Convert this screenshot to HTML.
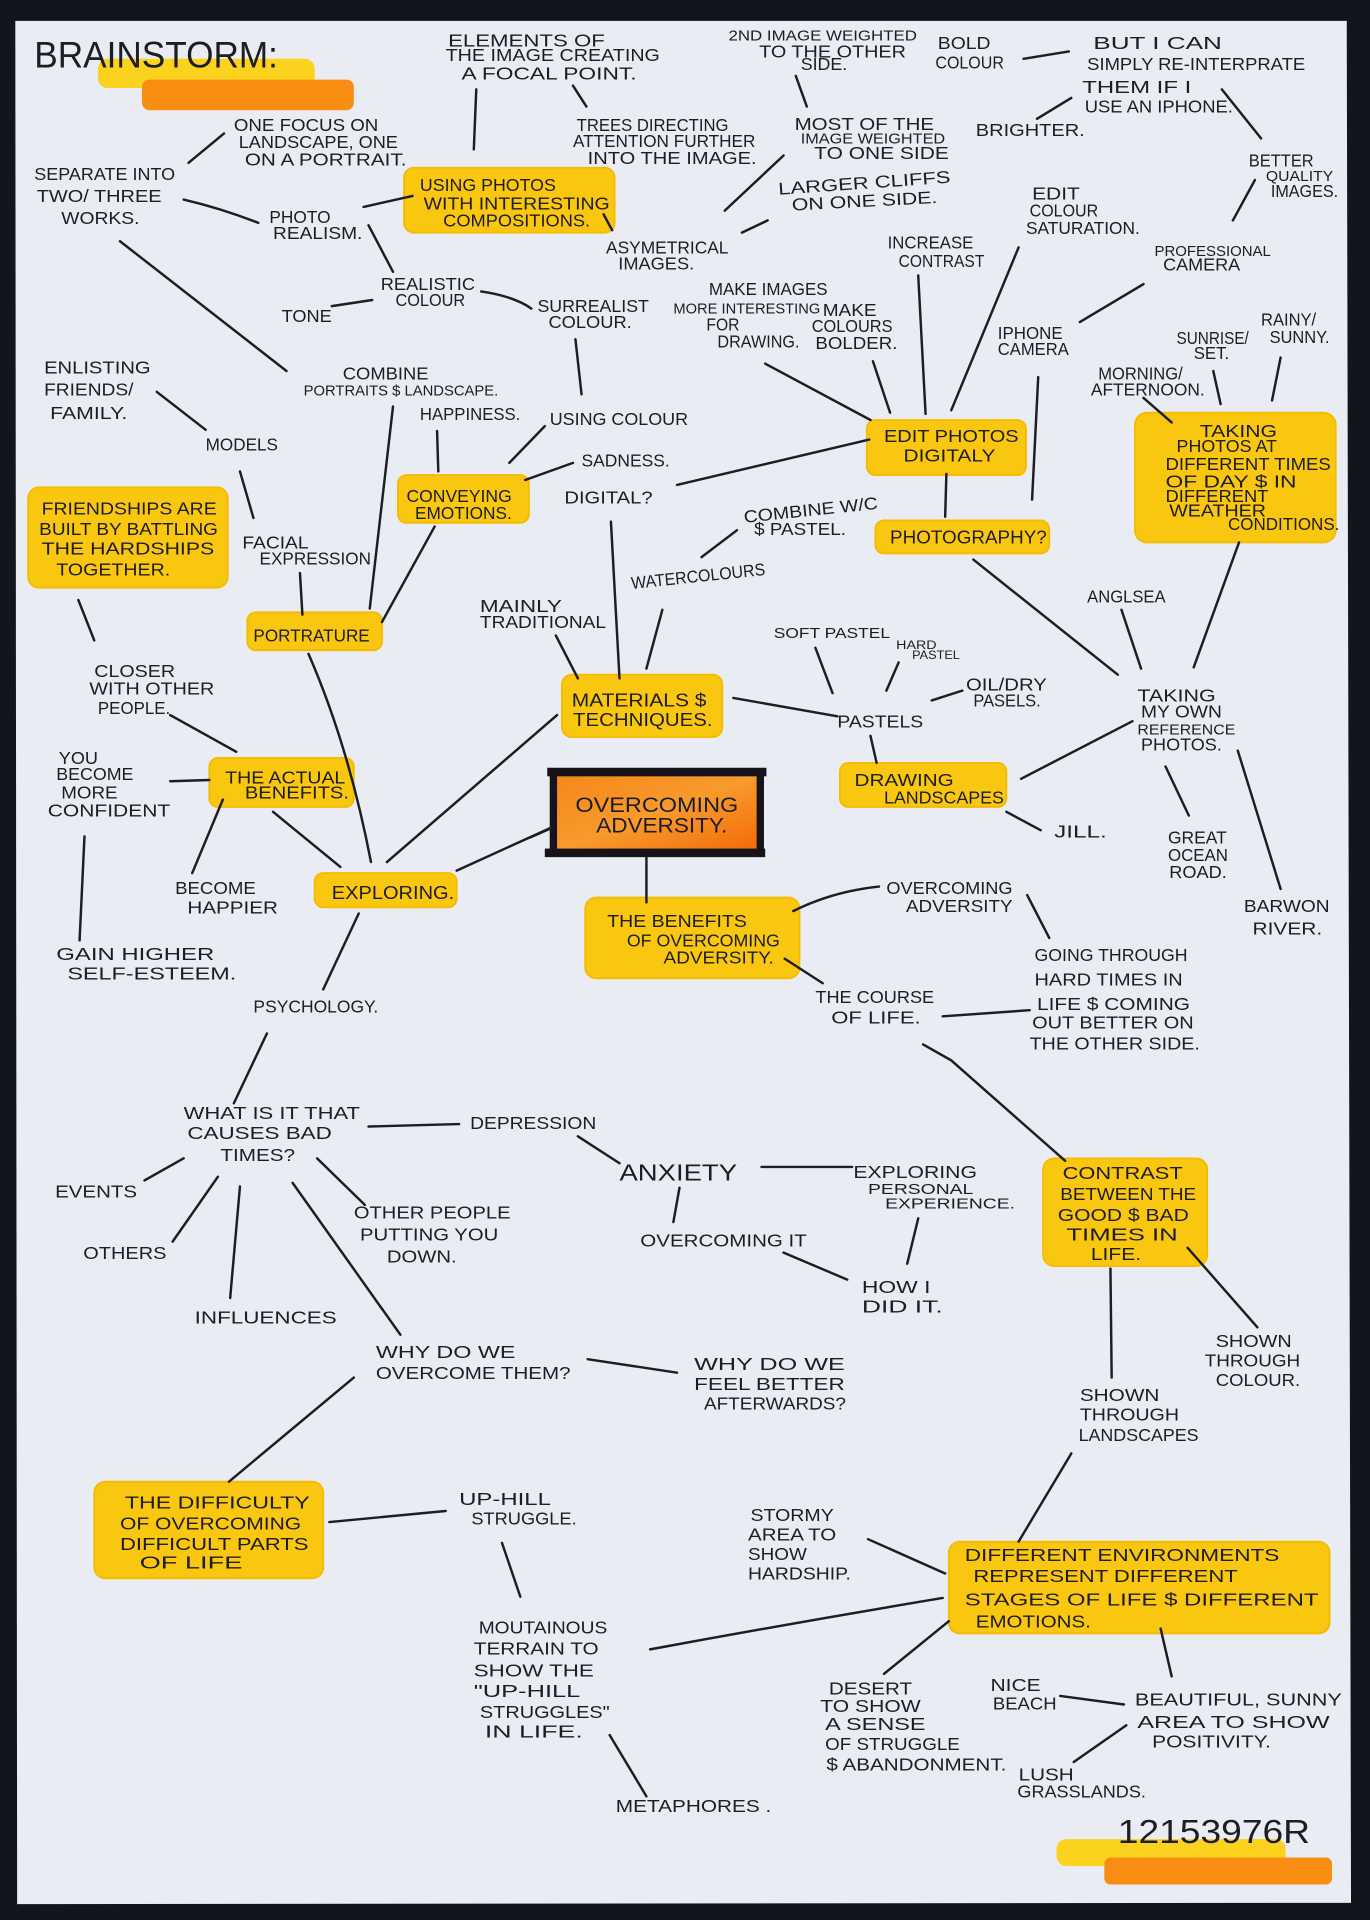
<!DOCTYPE html>
<html><head><meta charset="utf-8"><style>
html,body{margin:0;padding:0;background:#13151c;}
svg{display:block;}
text{font-family:"Liberation Sans",sans-serif;font-size:14px;fill:#1d1d24;}
.s{font-size:12px;}
.m{font-size:15px;}
.l{font-size:17px;}
line,path.c,polyline{stroke:#1d1d24;stroke-width:2;stroke-linecap:round;fill:none;}
.hl{fill:#f9c610;stroke:#f4bb00;stroke-width:1.5;}
</style></head><body>
<svg width="1370" height="1920" viewBox="0 0 1119 1568" preserveAspectRatio="none" xmlns="http://www.w3.org/2000/svg">
<defs>
<linearGradient id="og" x1="0" y1="0" x2="1" y2="1"><stop offset="0" stop-color="#f6871a"/><stop offset="0.5" stop-color="#f89a2c"/><stop offset="1" stop-color="#f26a08"/></linearGradient>
<linearGradient id="yg" x1="0" y1="0" x2="0" y2="1"><stop offset="0" stop-color="#f8c30c"/><stop offset="0.5" stop-color="#fbcd22"/><stop offset="1" stop-color="#f8c30c"/></linearGradient>
</defs>
<rect x="0" y="0" width="1119" height="1568" fill="#13151c"/>
<polygon points="12.5,17 1100,17 1103.5,1554 14,1555" fill="#e9ecf3"/>

<rect x="80" y="48" width="177" height="24" rx="8" fill="#fbd21e"/>
<rect x="116" y="65" width="173" height="25" rx="6" fill="#f98d12"/>
<rect x="863" y="1502" width="187" height="22" rx="8" fill="#fbd21e"/>
<rect x="902" y="1517" width="186" height="22" rx="5" fill="#f98d12"/>

<g>
<rect class="hl" x="330" y="137" width="172" height="53" rx="8" fill="url(#yg)"/>
<rect class="hl" x="325" y="388" width="107" height="39" rx="7"/>
<rect class="hl" x="23" y="398" width="163" height="82" rx="9"/>
<rect class="hl" x="202" y="500" width="110" height="31" rx="7"/>
<rect class="hl" x="708" y="343" width="130" height="45" rx="7"/>
<rect class="hl" x="715" y="425" width="142" height="27" rx="7"/>
<rect class="hl" x="927" y="337" width="164" height="106" rx="10"/>
<rect class="hl" x="459" y="551" width="131" height="51" rx="8"/>
<rect class="hl" x="171" y="619" width="118" height="40" rx="7"/>
<rect class="hl" x="686" y="623" width="136" height="36" rx="7"/>
<rect class="hl" x="257" y="713" width="116" height="28" rx="7"/>
<rect class="hl" x="478" y="733" width="175" height="66" rx="9"/>
<rect class="hl" x="852" y="946" width="134" height="88" rx="9"/>
<rect class="hl" x="77" y="1210" width="187" height="79" rx="9"/>
<rect class="hl" x="775" y="1259" width="311" height="75" rx="9"/>
</g>

<rect x="453" y="633" width="167" height="62" fill="url(#og)"/>
<rect x="447" y="627" width="179" height="7" fill="#16141a"/>
<rect x="445" y="693" width="180" height="7" fill="#16141a"/>
<rect x="449" y="630" width="6" height="66" fill="#16141a"/>
<rect x="618" y="630" width="6" height="66" fill="#16141a"/>

<g>
<line x1="389" y1="73" x2="387" y2="122"/>
<line x1="468" y1="70" x2="479" y2="87"/>
<line x1="154" y1="133" x2="183" y2="109"/>
<path class="c" d="M150 163 Q180 170 211 182"/>
<line x1="297" y1="169" x2="337" y2="160"/>
<line x1="493" y1="175" x2="500" y2="188"/>
<line x1="606" y1="190" x2="627" y2="180"/>
<line x1="301" y1="184" x2="321" y2="222"/>
<line x1="271" y1="250" x2="304" y2="245"/>
<path class="c" d="M393 238 Q420 242 434 252"/>
<line x1="470" y1="277" x2="475" y2="322"/>
<line x1="98" y1="197" x2="234" y2="303"/>
<line x1="128" y1="320" x2="168" y2="351"/>
<line x1="357" y1="352" x2="358" y2="385"/>
<line x1="445" y1="348" x2="416" y2="378"/>
<line x1="468" y1="378" x2="429" y2="392"/>
<line x1="553" y1="396" x2="710" y2="359"/>
<line x1="499" y1="426" x2="506" y2="554"/>
<line x1="196" y1="385" x2="207" y2="423"/>
<line x1="245" y1="468" x2="247" y2="502"/>
<line x1="321" y1="332" x2="302" y2="497"/>
<line x1="355" y1="430" x2="312" y2="508"/>
<line x1="64" y1="490" x2="77" y2="523"/>
<line x1="454" y1="519" x2="472" y2="554"/>
<line x1="541" y1="498" x2="528" y2="546"/>
<line x1="650" y1="62" x2="659" y2="87"/>
<line x1="640" y1="127" x2="592" y2="172"/>
<line x1="836" y1="48" x2="873" y2="42"/>
<line x1="875" y1="80" x2="847" y2="97"/>
<line x1="998" y1="73" x2="1030" y2="113"/>
<line x1="1025" y1="147" x2="1007" y2="180"/>
<line x1="832" y1="202" x2="777" y2="335"/>
<line x1="750" y1="225" x2="756" y2="338"/>
<line x1="934" y1="232" x2="882" y2="263"/>
<line x1="625" y1="297" x2="711" y2="343"/>
<line x1="713" y1="295" x2="727" y2="337"/>
<line x1="848" y1="308" x2="843" y2="408"/>
<line x1="991" y1="303" x2="997" y2="330"/>
<line x1="1046" y1="292" x2="1039" y2="327"/>
<line x1="934" y1="325" x2="957" y2="345"/>
<line x1="773" y1="387" x2="772" y2="422"/>
<line x1="602" y1="433" x2="573" y2="455"/>
<line x1="1012" y1="443" x2="975" y2="545"/>
<line x1="795" y1="457" x2="913" y2="551"/>
<line x1="916" y1="498" x2="932" y2="546"/>
<line x1="666" y1="529" x2="680" y2="566"/>
<line x1="734" y1="541" x2="724" y2="564"/>
<line x1="599" y1="570" x2="684" y2="585"/>
<line x1="761" y1="572" x2="786" y2="564"/>
<line x1="711" y1="601" x2="716" y2="623"/>
<line x1="834" y1="636" x2="925" y2="589"/>
<line x1="822" y1="663" x2="850" y2="678"/>
<line x1="952" y1="626" x2="971" y2="666"/>
<line x1="1011" y1="613" x2="1046" y2="726"/>
<path class="c" d="M648 744 Q680 728 718 724"/>
<line x1="839" y1="731" x2="857" y2="766"/>
<line x1="641" y1="783" x2="672" y2="803"/>
<line x1="770" y1="830" x2="841" y2="825"/>
<polyline points="754,853 777,866 870,948"/>
<line x1="970" y1="1019" x2="1027" y2="1084"/>
<line x1="907" y1="1036" x2="908" y2="1125"/>
<line x1="528" y1="700" x2="528" y2="737"/>
<line x1="433" y1="684" x2="451" y2="676"/>
<line x1="139" y1="584" x2="193" y2="614"/>
<line x1="139" y1="638" x2="171" y2="637"/>
<line x1="182" y1="653" x2="157" y2="713"/>
<line x1="223" y1="663" x2="278" y2="708"/>
<path class="c" d="M252 534 Q285 610 303 704"/>
<line x1="455" y1="584" x2="316" y2="704"/>
<line x1="373" y1="711" x2="450" y2="676"/>
<line x1="293" y1="746" x2="264" y2="808"/>
<line x1="69" y1="683" x2="65" y2="768"/>
<line x1="218" y1="844" x2="191" y2="901"/>
<line x1="301" y1="920" x2="375" y2="918"/>
<line x1="472" y1="928" x2="506" y2="950"/>
<line x1="622" y1="953" x2="696" y2="953"/>
<line x1="555" y1="970" x2="550" y2="998"/>
<line x1="640" y1="1023" x2="692" y2="1045"/>
<line x1="750" y1="995" x2="741" y2="1032"/>
<line x1="150" y1="946" x2="118" y2="964"/>
<line x1="178" y1="961" x2="141" y2="1014"/>
<line x1="196" y1="969" x2="188" y2="1060"/>
<line x1="239" y1="966" x2="327" y2="1090"/>
<line x1="259" y1="946" x2="298" y2="984"/>
<line x1="480" y1="1110" x2="553" y2="1121"/>
<line x1="289" y1="1125" x2="187" y2="1210"/>
<line x1="269" y1="1243" x2="364" y2="1234"/>
<line x1="410" y1="1260" x2="425" y2="1304"/>
<line x1="498" y1="1417" x2="528" y2="1467"/>
<path class="c" d="M531 1347 Q650 1325 770 1305"/>
<line x1="875" y1="1187" x2="832" y2="1259"/>
<line x1="709" y1="1257" x2="772" y2="1285"/>
<line x1="775" y1="1324" x2="722" y2="1367"/>
<line x1="948" y1="1330" x2="957" y2="1369"/>
<line x1="866" y1="1385" x2="918" y2="1392"/>
<line x1="920" y1="1409" x2="877" y2="1439"/>
</g>

<g>
<text x="28" y="55" textLength="199" lengthAdjust="spacingAndGlyphs" style="font-size:30px">BRAINSTORM:</text>

<text x="366" y="38" textLength="128" lengthAdjust="spacingAndGlyphs">ELEMENTS OF</text>
<text x="364" y="50" textLength="175" lengthAdjust="spacingAndGlyphs">THE IMAGE CREATING</text>
<text x="377" y="65" textLength="143" lengthAdjust="spacingAndGlyphs">A FOCAL POINT.</text>
<text x="471" y="107" textLength="124" lengthAdjust="spacingAndGlyphs">TREES DIRECTING</text>
<text x="468" y="120" textLength="149" lengthAdjust="spacingAndGlyphs">ATTENTION FURTHER</text>
<text x="480" y="134" textLength="138" lengthAdjust="spacingAndGlyphs">INTO THE IMAGE.</text>
<text x="191" y="107" textLength="118" lengthAdjust="spacingAndGlyphs">ONE FOCUS ON</text>
<text x="195" y="121" textLength="130" lengthAdjust="spacingAndGlyphs">LANDSCAPE, ONE</text>
<text x="200" y="135" textLength="132" lengthAdjust="spacingAndGlyphs">ON A PORTRAIT.</text>
<text x="28" y="147" textLength="115" lengthAdjust="spacingAndGlyphs">SEPARATE INTO</text>
<text x="30" y="165" textLength="102" lengthAdjust="spacingAndGlyphs">TWO/ THREE</text>
<text x="50" y="183" textLength="64" lengthAdjust="spacingAndGlyphs">WORKS.</text>
<text x="220" y="182" textLength="50" lengthAdjust="spacingAndGlyphs">PHOTO</text>
<text x="223" y="195" textLength="73" lengthAdjust="spacingAndGlyphs">REALISM.</text>
<text x="343" y="156" textLength="111" lengthAdjust="spacingAndGlyphs">USING PHOTOS</text>
<text x="346" y="171" textLength="152" lengthAdjust="spacingAndGlyphs">WITH INTERESTING</text>
<text x="362" y="185" textLength="120" lengthAdjust="spacingAndGlyphs">COMPOSITIONS.</text>
<text x="495" y="207" textLength="100" lengthAdjust="spacingAndGlyphs">ASYMETRICAL</text>
<text x="505" y="220" textLength="62" lengthAdjust="spacingAndGlyphs">IMAGES.</text>
<text x="311" y="237" textLength="77" lengthAdjust="spacingAndGlyphs">REALISTIC</text>
<text x="323" y="250" textLength="57" lengthAdjust="spacingAndGlyphs">COLOUR</text>
<text x="230" y="263" textLength="41" lengthAdjust="spacingAndGlyphs">TONE</text>
<text x="439" y="255" textLength="91" lengthAdjust="spacingAndGlyphs">SURREALIST</text>
<text x="448" y="268" textLength="68" lengthAdjust="spacingAndGlyphs">COLOUR.</text>
<text x="36" y="305" textLength="87" lengthAdjust="spacingAndGlyphs">ENLISTING</text>
<text x="36" y="323" textLength="73" lengthAdjust="spacingAndGlyphs">FRIENDS/</text>
<text x="41" y="342" textLength="63" lengthAdjust="spacingAndGlyphs">FAMILY.</text>
<text x="168" y="368" textLength="59" lengthAdjust="spacingAndGlyphs">MODELS</text>
<text x="280" y="310" textLength="70" lengthAdjust="spacingAndGlyphs">COMBINE</text>
<text x="248" y="323" textLength="159" lengthAdjust="spacingAndGlyphs" class="s">PORTRAITS $ LANDSCAPE.</text>
<text x="343" y="343" textLength="82" lengthAdjust="spacingAndGlyphs">HAPPINESS.</text>
<text x="449" y="347" textLength="113" lengthAdjust="spacingAndGlyphs">USING COLOUR</text>
<text x="475" y="381" textLength="72" lengthAdjust="spacingAndGlyphs">SADNESS.</text>
<text x="332" y="410" textLength="86" lengthAdjust="spacingAndGlyphs">CONVEYING</text>
<text x="339" y="424" textLength="79" lengthAdjust="spacingAndGlyphs">EMOTIONS.</text>
<text x="461" y="411" textLength="72" lengthAdjust="spacingAndGlyphs">DIGITAL?</text>
<text x="34" y="420" textLength="143" lengthAdjust="spacingAndGlyphs">FRIENDSHIPS ARE</text>
<text x="32" y="437" textLength="146" lengthAdjust="spacingAndGlyphs">BUILT BY BATTLING</text>
<text x="34" y="453" textLength="141" lengthAdjust="spacingAndGlyphs">THE HARDSHIPS</text>
<text x="46" y="470" textLength="93" lengthAdjust="spacingAndGlyphs">TOGETHER.</text>
<text x="198" y="448" textLength="54" lengthAdjust="spacingAndGlyphs">FACIAL</text>
<text x="212" y="461" textLength="91" lengthAdjust="spacingAndGlyphs">EXPRESSION</text>
<text x="392" y="500" textLength="67" lengthAdjust="spacingAndGlyphs">MAINLY</text>
<text x="392" y="513" textLength="103" lengthAdjust="spacingAndGlyphs">TRADITIONAL</text>
<text x="516" y="481" textLength="110" lengthAdjust="spacingAndGlyphs" transform="rotate(-6 516 481)">WATERCOLOURS</text>
<text x="207" y="524" textLength="95" lengthAdjust="spacingAndGlyphs">PORTRATURE</text>
<text x="467" y="577" textLength="110" lengthAdjust="spacingAndGlyphs" class="m">MATERIALS $</text>
<text x="468" y="593" textLength="114" lengthAdjust="spacingAndGlyphs" class="m">TECHNIQUES.</text>

<text x="595" y="33" textLength="154" lengthAdjust="spacingAndGlyphs" class="s">2ND IMAGE WEIGHTED</text>
<text x="620" y="47" textLength="120" lengthAdjust="spacingAndGlyphs">TO THE OTHER</text>
<text x="654" y="57" textLength="38" lengthAdjust="spacingAndGlyphs">SIDE.</text>
<text x="649" y="106" textLength="114" lengthAdjust="spacingAndGlyphs">MOST OF THE</text>
<text x="654" y="117" textLength="118" lengthAdjust="spacingAndGlyphs" class="s">IMAGE WEIGHTED</text>
<text x="665" y="130" textLength="110" lengthAdjust="spacingAndGlyphs">TO ONE SIDE</text>
<text x="636" y="159" textLength="141" lengthAdjust="spacingAndGlyphs" transform="rotate(-4 636 159)">LARGER CLIFFS</text>
<text x="647" y="172" textLength="119" lengthAdjust="spacingAndGlyphs" transform="rotate(-3 647 172)">ON ONE SIDE.</text>
<text x="766" y="40" textLength="43" lengthAdjust="spacingAndGlyphs">BOLD</text>
<text x="764" y="56" textLength="56" lengthAdjust="spacingAndGlyphs">COLOUR</text>
<text x="893" y="40" textLength="105" lengthAdjust="spacingAndGlyphs">BUT I CAN</text>
<text x="888" y="57" textLength="178" lengthAdjust="spacingAndGlyphs">SIMPLY RE-INTERPRATE</text>
<text x="884" y="76" textLength="89" lengthAdjust="spacingAndGlyphs">THEM IF I</text>
<text x="886" y="92" textLength="121" lengthAdjust="spacingAndGlyphs">USE AN IPHONE.</text>
<text x="797" y="111" textLength="89" lengthAdjust="spacingAndGlyphs">BRIGHTER.</text>
<text x="1020" y="136" textLength="53" lengthAdjust="spacingAndGlyphs">BETTER</text>
<text x="1034" y="148" textLength="55" lengthAdjust="spacingAndGlyphs" class="s">QUALITY</text>
<text x="1038" y="161" textLength="55" lengthAdjust="spacingAndGlyphs">IMAGES.</text>
<text x="843" y="163" textLength="39" lengthAdjust="spacingAndGlyphs">EDIT</text>
<text x="841" y="177" textLength="56" lengthAdjust="spacingAndGlyphs">COLOUR</text>
<text x="838" y="191" textLength="93" lengthAdjust="spacingAndGlyphs">SATURATION.</text>
<text x="725" y="203" textLength="70" lengthAdjust="spacingAndGlyphs">INCREASE</text>
<text x="734" y="218" textLength="70" lengthAdjust="spacingAndGlyphs">CONTRAST</text>
<text x="943" y="209" textLength="95" lengthAdjust="spacingAndGlyphs" class="s">PROFESSIONAL</text>
<text x="950" y="221" textLength="63" lengthAdjust="spacingAndGlyphs">CAMERA</text>
<text x="579" y="241" textLength="97" lengthAdjust="spacingAndGlyphs">MAKE IMAGES</text>
<text x="550" y="256" textLength="120" lengthAdjust="spacingAndGlyphs" class="s">MORE INTERESTING</text>
<text x="577" y="270" textLength="27" lengthAdjust="spacingAndGlyphs">FOR</text>
<text x="586" y="284" textLength="67" lengthAdjust="spacingAndGlyphs">DRAWING.</text>
<text x="672" y="258" textLength="44" lengthAdjust="spacingAndGlyphs">MAKE</text>
<text x="663" y="271" textLength="66" lengthAdjust="spacingAndGlyphs">COLOURS</text>
<text x="666" y="285" textLength="67" lengthAdjust="spacingAndGlyphs">BOLDER.</text>
<text x="815" y="277" textLength="53" lengthAdjust="spacingAndGlyphs">IPHONE</text>
<text x="815" y="290" textLength="58" lengthAdjust="spacingAndGlyphs">CAMERA</text>
<text x="961" y="281" textLength="59" lengthAdjust="spacingAndGlyphs">SUNRISE/</text>
<text x="975" y="293" textLength="29" lengthAdjust="spacingAndGlyphs">SET.</text>
<text x="1030" y="266" textLength="45" lengthAdjust="spacingAndGlyphs">RAINY/</text>
<text x="1037" y="280" textLength="49" lengthAdjust="spacingAndGlyphs">SUNNY.</text>
<text x="897" y="310" textLength="69" lengthAdjust="spacingAndGlyphs">MORNING/</text>
<text x="891" y="323" textLength="93" lengthAdjust="spacingAndGlyphs">AFTERNOON.</text>
<text x="722" y="361" textLength="110" lengthAdjust="spacingAndGlyphs">EDIT PHOTOS</text>
<text x="738" y="377" textLength="75" lengthAdjust="spacingAndGlyphs">DIGITALY</text>
<text x="727" y="444" textLength="128" lengthAdjust="spacingAndGlyphs" class="m">PHOTOGRAPHY?</text>
<text x="608" y="427" textLength="110" lengthAdjust="spacingAndGlyphs" transform="rotate(-6 608 427)">COMBINE W/C</text>
<text x="616" y="437" textLength="75" lengthAdjust="spacingAndGlyphs">$ PASTEL.</text>
<text x="980" y="357" textLength="63" lengthAdjust="spacingAndGlyphs">TAKING</text>
<text x="961" y="369" textLength="82" lengthAdjust="spacingAndGlyphs">PHOTOS AT</text>
<text x="952" y="384" textLength="135" lengthAdjust="spacingAndGlyphs">DIFFERENT TIMES</text>
<text x="952" y="398" textLength="107" lengthAdjust="spacingAndGlyphs">OF DAY $ IN</text>
<text x="952" y="410" textLength="84" lengthAdjust="spacingAndGlyphs">DIFFERENT</text>
<text x="955" y="422" textLength="79" lengthAdjust="spacingAndGlyphs">WEATHER</text>
<text x="1003" y="433" textLength="91" lengthAdjust="spacingAndGlyphs">CONDITIONS.</text>
<text x="888" y="492" textLength="64" lengthAdjust="spacingAndGlyphs">ANGLSEA</text>
<text x="632" y="521" textLength="95" lengthAdjust="spacingAndGlyphs" class="s">SOFT PASTEL</text>
<text x="732" y="530" textLength="33" lengthAdjust="spacingAndGlyphs" style="font-size:10px">HARD</text>
<text x="745" y="538" textLength="39" lengthAdjust="spacingAndGlyphs" style="font-size:10px">PASTEL</text>

<text x="684" y="594" textLength="70" lengthAdjust="spacingAndGlyphs">PASTELS</text>
<text x="789" y="564" textLength="66" lengthAdjust="spacingAndGlyphs">OIL/DRY</text>
<text x="795" y="577" textLength="55" lengthAdjust="spacingAndGlyphs">PASELS.</text>
<text x="698" y="642" textLength="81" lengthAdjust="spacingAndGlyphs">DRAWING</text>
<text x="722" y="656" textLength="98" lengthAdjust="spacingAndGlyphs">LANDSCAPES</text>
<text x="861" y="684" textLength="43" lengthAdjust="spacingAndGlyphs">JILL.</text>
<text x="929" y="573" textLength="64" lengthAdjust="spacingAndGlyphs">TAKING</text>
<text x="932" y="586" textLength="66" lengthAdjust="spacingAndGlyphs">MY OWN</text>
<text x="929" y="600" textLength="80" lengthAdjust="spacingAndGlyphs" class="s">REFERENCE</text>
<text x="932" y="613" textLength="66" lengthAdjust="spacingAndGlyphs">PHOTOS.</text>
<text x="954" y="689" textLength="48" lengthAdjust="spacingAndGlyphs">GREAT</text>
<text x="954" y="703" textLength="49" lengthAdjust="spacingAndGlyphs">OCEAN</text>
<text x="955" y="717" textLength="47" lengthAdjust="spacingAndGlyphs">ROAD.</text>
<text x="1016" y="745" textLength="70" lengthAdjust="spacingAndGlyphs">BARWON</text>
<text x="1023" y="763" textLength="57" lengthAdjust="spacingAndGlyphs">RIVER.</text>
<text x="724" y="730" textLength="103" lengthAdjust="spacingAndGlyphs">OVERCOMING</text>
<text x="740" y="745" textLength="87" lengthAdjust="spacingAndGlyphs">ADVERSITY</text>
<text x="845" y="785" textLength="125" lengthAdjust="spacingAndGlyphs">GOING THROUGH</text>
<text x="845" y="805" textLength="121" lengthAdjust="spacingAndGlyphs">HARD TIMES IN</text>
<text x="847" y="825" textLength="125" lengthAdjust="spacingAndGlyphs">LIFE $ COMING</text>
<text x="843" y="840" textLength="132" lengthAdjust="spacingAndGlyphs">OUT BETTER ON</text>
<text x="841" y="857" textLength="139" lengthAdjust="spacingAndGlyphs">THE OTHER SIDE.</text>
<text x="666" y="819" textLength="97" lengthAdjust="spacingAndGlyphs">THE COURSE</text>
<text x="679" y="836" textLength="73" lengthAdjust="spacingAndGlyphs">OF LIFE.</text>
<text x="868" y="963" textLength="98" lengthAdjust="spacingAndGlyphs">CONTRAST</text>
<text x="866" y="980" textLength="111" lengthAdjust="spacingAndGlyphs">BETWEEN THE</text>
<text x="864" y="997" textLength="107" lengthAdjust="spacingAndGlyphs">GOOD $ BAD</text>
<text x="871" y="1013" textLength="91" lengthAdjust="spacingAndGlyphs">TIMES IN</text>
<text x="891" y="1029" textLength="41" lengthAdjust="spacingAndGlyphs">LIFE.</text>
<text x="697" y="962" textLength="101" lengthAdjust="spacingAndGlyphs">EXPLORING</text>
<text x="709" y="975" textLength="86" lengthAdjust="spacingAndGlyphs" class="s">PERSONAL</text>
<text x="723" y="987" textLength="106" lengthAdjust="spacingAndGlyphs" class="s">EXPERIENCE.</text>

<text x="470" y="663" textLength="133" lengthAdjust="spacingAndGlyphs" class="l">OVERCOMING</text>
<text x="487" y="680" textLength="107" lengthAdjust="spacingAndGlyphs" class="l">ADVERSITY.</text>
<text x="496" y="757" textLength="114" lengthAdjust="spacingAndGlyphs">THE BENEFITS</text>
<text x="512" y="773" textLength="125" lengthAdjust="spacingAndGlyphs">OF OVERCOMING</text>
<text x="542" y="787" textLength="90" lengthAdjust="spacingAndGlyphs">ADVERSITY.</text>

<text x="77" y="553" textLength="66" lengthAdjust="spacingAndGlyphs">CLOSER</text>
<text x="73" y="567" textLength="102" lengthAdjust="spacingAndGlyphs">WITH OTHER</text>
<text x="80" y="583" textLength="59" lengthAdjust="spacingAndGlyphs">PEOPLE.</text>
<text x="48" y="624" textLength="32" lengthAdjust="spacingAndGlyphs">YOU</text>
<text x="46" y="637" textLength="63" lengthAdjust="spacingAndGlyphs">BECOME</text>
<text x="50" y="652" textLength="46" lengthAdjust="spacingAndGlyphs">MORE</text>
<text x="39" y="667" textLength="100" lengthAdjust="spacingAndGlyphs">CONFIDENT</text>
<text x="184" y="640" textLength="98" lengthAdjust="spacingAndGlyphs">THE ACTUAL</text>
<text x="200" y="652" textLength="85" lengthAdjust="spacingAndGlyphs">BENEFITS.</text>
<text x="143" y="730" textLength="66" lengthAdjust="spacingAndGlyphs">BECOME</text>
<text x="153" y="746" textLength="74" lengthAdjust="spacingAndGlyphs">HAPPIER</text>
<text x="271" y="734" textLength="100" lengthAdjust="spacingAndGlyphs" class="m">EXPLORING.</text>
<text x="46" y="784" textLength="129" lengthAdjust="spacingAndGlyphs">GAIN HIGHER</text>
<text x="55" y="800" textLength="138" lengthAdjust="spacingAndGlyphs">SELF-ESTEEM.</text>
<text x="207" y="827" textLength="102" lengthAdjust="spacingAndGlyphs">PSYCHOLOGY.</text>
<text x="150" y="914" textLength="144" lengthAdjust="spacingAndGlyphs">WHAT IS IT THAT</text>
<text x="153" y="930" textLength="118" lengthAdjust="spacingAndGlyphs">CAUSES BAD</text>
<text x="180" y="948" textLength="61" lengthAdjust="spacingAndGlyphs">TIMES?</text>
<text x="384" y="922" textLength="103" lengthAdjust="spacingAndGlyphs">DEPRESSION</text>
<text x="506" y="964" textLength="96" lengthAdjust="spacingAndGlyphs" style="font-size:19px">ANXIETY</text>
<text x="45" y="978" textLength="67" lengthAdjust="spacingAndGlyphs">EVENTS</text>
<text x="68" y="1028" textLength="68" lengthAdjust="spacingAndGlyphs">OTHERS</text>
<text x="289" y="995" textLength="128" lengthAdjust="spacingAndGlyphs">OTHER PEOPLE</text>
<text x="294" y="1013" textLength="113" lengthAdjust="spacingAndGlyphs">PUTTING YOU</text>
<text x="316" y="1031" textLength="57" lengthAdjust="spacingAndGlyphs">DOWN.</text>
<text x="523" y="1018" textLength="136" lengthAdjust="spacingAndGlyphs">OVERCOMING IT</text>
<text x="704" y="1056" textLength="56" lengthAdjust="spacingAndGlyphs">HOW I</text>
<text x="704" y="1072" textLength="66" lengthAdjust="spacingAndGlyphs">DID IT.</text>

<text x="159" y="1081" textLength="116" lengthAdjust="spacingAndGlyphs">INFLUENCES</text>
<text x="307" y="1109" textLength="114" lengthAdjust="spacingAndGlyphs">WHY DO WE</text>
<text x="307" y="1126" textLength="159" lengthAdjust="spacingAndGlyphs">OVERCOME THEM?</text>
<text x="102" y="1232" textLength="151" lengthAdjust="spacingAndGlyphs">THE DIFFICULTY</text>
<text x="98" y="1249" textLength="148" lengthAdjust="spacingAndGlyphs">OF OVERCOMING</text>
<text x="98" y="1266" textLength="154" lengthAdjust="spacingAndGlyphs">DIFFICULT PARTS</text>
<text x="114" y="1281" textLength="84" lengthAdjust="spacingAndGlyphs">OF LIFE</text>
<text x="375" y="1229" textLength="75" lengthAdjust="spacingAndGlyphs">UP-HILL</text>
<text x="385" y="1245" textLength="86" lengthAdjust="spacingAndGlyphs">STRUGGLE.</text>
<text x="391" y="1334" textLength="105" lengthAdjust="spacingAndGlyphs">MOUTAINOUS</text>
<text x="387" y="1351" textLength="102" lengthAdjust="spacingAndGlyphs">TERRAIN TO</text>
<text x="387" y="1369" textLength="98" lengthAdjust="spacingAndGlyphs">SHOW THE</text>
<text x="387" y="1386" textLength="87" lengthAdjust="spacingAndGlyphs">"UP-HILL</text>
<text x="392" y="1403" textLength="106" lengthAdjust="spacingAndGlyphs">STRUGGLES"</text>
<text x="396" y="1419" textLength="80" lengthAdjust="spacingAndGlyphs">IN LIFE.</text>
<text x="503" y="1480" textLength="127" lengthAdjust="spacingAndGlyphs">METAPHORES .</text>

<text x="567" y="1119" textLength="123" lengthAdjust="spacingAndGlyphs">WHY DO WE</text>
<text x="567" y="1135" textLength="123" lengthAdjust="spacingAndGlyphs">FEEL BETTER</text>
<text x="575" y="1151" textLength="116" lengthAdjust="spacingAndGlyphs">AFTERWARDS?</text>
<text x="993" y="1100" textLength="62" lengthAdjust="spacingAndGlyphs">SHOWN</text>
<text x="984" y="1116" textLength="78" lengthAdjust="spacingAndGlyphs">THROUGH</text>
<text x="993" y="1132" textLength="69" lengthAdjust="spacingAndGlyphs">COLOUR.</text>
<text x="882" y="1144" textLength="65" lengthAdjust="spacingAndGlyphs">SHOWN</text>
<text x="882" y="1160" textLength="81" lengthAdjust="spacingAndGlyphs">THROUGH</text>
<text x="881" y="1177" textLength="98" lengthAdjust="spacingAndGlyphs">LANDSCAPES</text>
<text x="613" y="1242" textLength="68" lengthAdjust="spacingAndGlyphs">STORMY</text>
<text x="611" y="1258" textLength="72" lengthAdjust="spacingAndGlyphs">AREA TO</text>
<text x="611" y="1274" textLength="48" lengthAdjust="spacingAndGlyphs">SHOW</text>
<text x="611" y="1290" textLength="84" lengthAdjust="spacingAndGlyphs">HARDSHIP.</text>
<text x="788" y="1275" textLength="257" lengthAdjust="spacingAndGlyphs">DIFFERENT ENVIRONMENTS</text>
<text x="795" y="1292" textLength="216" lengthAdjust="spacingAndGlyphs">REPRESENT DIFFERENT</text>
<text x="788" y="1311" textLength="289" lengthAdjust="spacingAndGlyphs">STAGES OF LIFE $ DIFFERENT</text>
<text x="797" y="1329" textLength="94" lengthAdjust="spacingAndGlyphs">EMOTIONS.</text>
<text x="677" y="1384" textLength="68" lengthAdjust="spacingAndGlyphs">DESERT</text>
<text x="670" y="1398" textLength="82" lengthAdjust="spacingAndGlyphs">TO SHOW</text>
<text x="674" y="1413" textLength="82" lengthAdjust="spacingAndGlyphs">A SENSE</text>
<text x="674" y="1429" textLength="110" lengthAdjust="spacingAndGlyphs">OF STRUGGLE</text>
<text x="675" y="1446" textLength="147" lengthAdjust="spacingAndGlyphs">$ ABANDONMENT.</text>
<text x="809" y="1381" textLength="41" lengthAdjust="spacingAndGlyphs">NICE</text>
<text x="811" y="1396" textLength="52" lengthAdjust="spacingAndGlyphs">BEACH</text>
<text x="927" y="1393" textLength="169" lengthAdjust="spacingAndGlyphs">BEAUTIFUL, SUNNY</text>
<text x="929" y="1411" textLength="157" lengthAdjust="spacingAndGlyphs">AREA TO SHOW</text>
<text x="941" y="1427" textLength="97" lengthAdjust="spacingAndGlyphs">POSITIVITY.</text>
<text x="832" y="1454" textLength="45" lengthAdjust="spacingAndGlyphs">LUSH</text>
<text x="831" y="1468" textLength="105" lengthAdjust="spacingAndGlyphs">GRASSLANDS.</text>
<text x="913" y="1505" textLength="157" lengthAdjust="spacingAndGlyphs" style="font-size:27px">12153976R</text>
</g>
</svg>
</body></html>
